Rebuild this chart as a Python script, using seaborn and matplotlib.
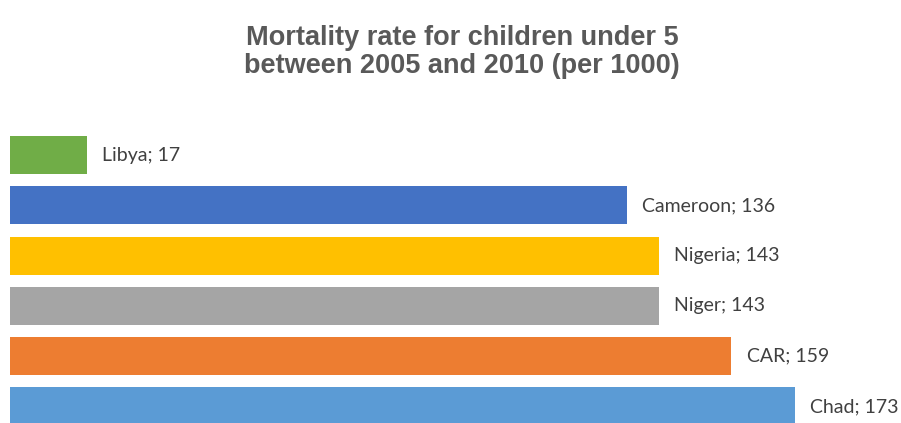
import matplotlib
matplotlib.use("Agg")
import matplotlib.pyplot as plt
import pandas as pd
import seaborn as sns

# Data
countries = ["Libya", "Cameroon", "Nigeria", "Niger", "CAR", "Chad"]
mortality = [17, 136, 143, 143, 159, 173]
bar_colors = ["#70AD47", "#4472C4", "#FFC000", "#A5A5A5", "#ED7D31", "#5B9BD5"]

df = pd.DataFrame({"country": countries, "rate": mortality})

sns.set_style("white")
plt.rcParams["font.family"] = ["Lato", "DejaVu Sans"]

fig = plt.figure(figsize=(9.01, 4.23), dpi=100)
ax = fig.add_axes([0.0111, 0.0, 0.982, 0.6927])

sns.barplot(data=df, y="country", x="rate", hue="country",
            palette=dict(zip(countries, bar_colors)), orient="h",
            width=0.76, legend=False, ax=ax, saturation=1, linewidth=0)

for cont, name, val in zip(ax.containers, countries, mortality):
    ax.bar_label(cont, labels=[f"{name}; {val}"], padding=11,
                 fontsize=14, color="#404040")

ax.set_xlim(0, 195)
ax.set_ylim(5.33, -0.5)
ax.set_axis_off()

fig.text(0.513, 0.878, "Mortality rate for children under 5\nbetween 2005 and 2010 (per 1000)",
         ha="center", va="center", fontsize=19.5, fontweight="bold",
         color="#595959", family="Liberation Sans", linespacing=1.1)

fig.savefig("out.png", dpi=100)
